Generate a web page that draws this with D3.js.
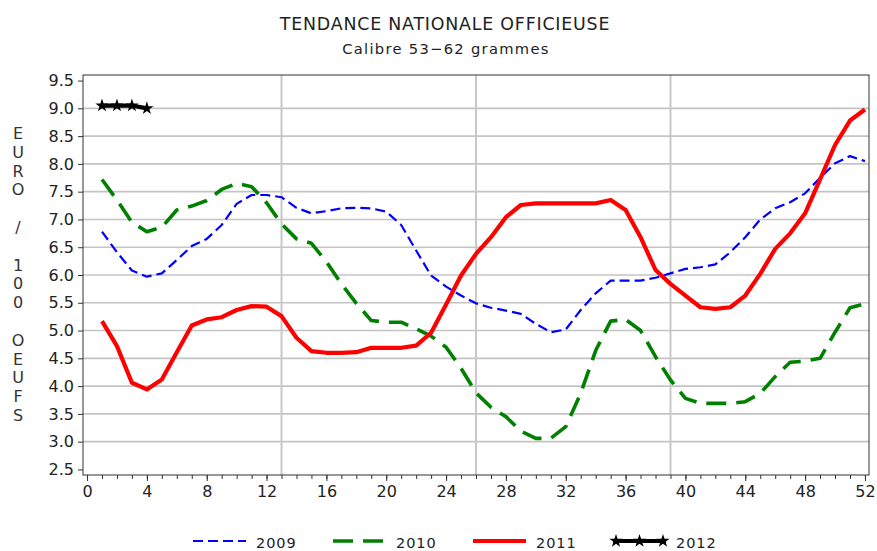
<!DOCTYPE html>
<html>
<head>
<meta charset="utf-8">
<script src="https://cdn.jsdelivr.net/npm/d3@7"></script>
<style>
  html, body { margin: 0; padding: 0; background: #fff; }
  svg { display: block; font-family: "DejaVu Sans", sans-serif; }
</style>
</head>
<body>
<svg id="chart" width="877" height="551"></svg>
<script>
// Weekly egg prices, euro per 100 eggs, size 53-62 g
const weeks = d3.range(1, 53);
const prices2009 = [6.78, 6.41, 6.08, 5.97, 6.03, 6.27, 6.52, 6.65, 6.90, 7.28,
  7.44, 7.44, 7.40, 7.21, 7.11, 7.15, 7.20, 7.21, 7.20, 7.14,
  6.90, 6.44, 5.99, 5.79, 5.63, 5.49, 5.41, 5.36, 5.30, 5.12,
  4.97, 5.02, 5.37, 5.67, 5.90, 5.90, 5.90, 5.95, 6.03, 6.11,
  6.14, 6.19, 6.41, 6.68, 7.00, 7.20, 7.31, 7.47, 7.75, 8.01,
  8.14, 8.05];
const prices2010 = [7.72, 7.35, 6.95, 6.78, 6.86, 7.17, 7.24, 7.34, 7.54, 7.65,
  7.59, 7.30, 6.92, 6.65, 6.57, 6.24, 5.84, 5.49, 5.18, 5.15,
  5.15, 5.03, 4.90, 4.70, 4.32, 3.88, 3.62, 3.45, 3.19, 3.06,
  3.06, 3.27, 3.87, 4.64, 5.17, 5.20, 5.00, 4.53, 4.11, 3.78,
  3.69, 3.69, 3.69, 3.72, 3.87, 4.17, 4.43, 4.45, 4.50, 4.97,
  5.41, 5.48];
const prices2011 = [5.17, 4.72, 4.06, 3.94, 4.12, 4.61, 5.09, 5.20, 5.24, 5.37,
  5.44, 5.43, 5.26, 4.87, 4.63, 4.60, 4.60, 4.61, 4.69, 4.69,
  4.69, 4.73, 4.96, 5.47, 5.99, 6.38, 6.68, 7.04, 7.26, 7.29,
  7.29, 7.29, 7.29, 7.29, 7.35, 7.17, 6.68, 6.09, 5.84, 5.63,
  5.42, 5.39, 5.42, 5.63, 6.02, 6.47, 6.75, 7.11, 7.72, 8.34,
  8.78, 8.98];
const prices2012 = [9.05, 9.05, 9.05, 9.00];

const yTicks = d3.range(2.5, 9.51, 0.5);
const xMajorTicks = d3.range(0, 53, 4);
const xMinorTicks = d3.range(0, 53, 1);
const quarterWeeks = [13, 26, 39];
const yLabelText = "EURO / 100 OEUFS";

const series = [
  { name: "2009", values: prices2009, color: "#0000ff", width: 2.2, dash: "10,5", star: false },
  { name: "2010", values: prices2010, color: "#008000", width: 3.6, dash: "20,10", star: false },
  { name: "2011", values: prices2011, color: "#ff0000", width: 4.2, dash: null, star: false },
  { name: "2012", values: prices2012, color: "#000000", width: 4.2, dash: null, star: true }
];

const svg = d3.select("#chart");
const plotLeft = 83, plotRight = 869, plotTop = 75, plotBottom = 475;

const x = d3.scaleLinear().domain([-0.27, 52.27]).range([plotLeft, plotRight]);
const y = d3.scaleLinear().domain([2.4, 9.6]).range([plotBottom, plotTop]);

// Titles
svg.append("text")
  .attr("x", 445).attr("y", 29.5)
  .attr("text-anchor", "middle")
  .attr("font-size", 17.4)
  .attr("letter-spacing", 0.8)
  .attr("fill", "#222")
  .text("TENDANCE NATIONALE OFFICIEUSE");
svg.append("text")
  .attr("x", 446).attr("y", 54)
  .attr("text-anchor", "middle")
  .attr("font-size", 14.7)
  .attr("letter-spacing", 1.3)
  .attr("fill", "#222")
  .text("Calibre 53\u221262 grammes");

// Gridlines
const grid = svg.append("g");
grid.selectAll("line.h")
  .data(yTicks.filter(v => v > 2.75 && v < 9.25))
  .join("line")
  .attr("class", "h")
  .attr("x1", plotLeft).attr("x2", plotRight)
  .attr("y1", d => y(d)).attr("y2", d => y(d))
  .attr("stroke", "#c4c4c4").attr("stroke-width", 1.6);
grid.selectAll("line.v")
  .data(quarterWeeks)
  .join("line")
  .attr("class", "v")
  .attr("x1", d => x(d)).attr("x2", d => x(d))
  .attr("y1", plotTop).attr("y2", plotBottom)
  .attr("stroke", "#c8c8c8").attr("stroke-width", 2);

// Axes
const yAxis = svg.append("g")
  .attr("transform", `translate(${plotLeft},0)`)
  .call(d3.axisLeft(y).tickValues(yTicks).tickFormat(d3.format(".1f")).tickSize(5).tickPadding(4));
yAxis.select(".domain").remove();
yAxis.selectAll("text").attr("font-size", 16).attr("fill", "#222").attr("font-family", "DejaVu Sans");
yAxis.selectAll("line").attr("stroke", "#333");

const xMinor = svg.append("g")
  .attr("transform", `translate(0,${plotBottom})`)
  .call(d3.axisBottom(x).tickValues(xMinorTicks).tickFormat("").tickSize(4));
xMinor.select(".domain").remove();
xMinor.selectAll("line").attr("stroke", "#333");

const xMajor = svg.append("g")
  .attr("transform", `translate(0,${plotBottom})`)
  .call(d3.axisBottom(x).tickValues(xMajorTicks).tickSize(6).tickPadding(5));
xMajor.select(".domain").remove();
xMajor.selectAll("line").attr("stroke", "#333");
xMajor.selectAll("text").attr("font-size", 16).attr("fill", "#222").attr("font-family", "DejaVu Sans");

// Vertical axis label, one character per row
const yl = svg.append("g").attr("font-size", 16).attr("fill", "#333").attr("text-anchor", "middle");
yl.selectAll("text")
  .data(Array.from(yLabelText))
  .join("text")
  .attr("x", 18)
  .attr("y", (d, i) => 139 + i * 18.8)
  .text(d => d);

// Data lines
const line = d3.line().x(d => x(d[0])).y(d => y(d[1]));
const star = d3.symbol().type(d3.symbolStar).size(55);
const plot = svg.append("g");
series.forEach(s => {
  const pts = s.values.map((v, i) => [weeks[i], v]);
  plot.append("path")
    .datum(pts)
    .attr("d", line)
    .attr("fill", "none")
    .attr("stroke", s.color)
    .attr("stroke-width", s.width)
    .attr("stroke-dasharray", s.dash)
    .attr("stroke-linejoin", "round");
  if (s.star) {
    plot.selectAll(null)
      .data(pts)
      .join("path")
      .attr("transform", d => `translate(${x(d[0])},${y(d[1])})`)
      .attr("d", star)
      .attr("fill", s.color);
  }
});

// Plot frame
svg.append("rect")
  .attr("x", plotLeft).attr("y", plotTop)
  .attr("width", plotRight - plotLeft).attr("height", plotBottom - plotTop)
  .attr("fill", "none").attr("stroke", "#333").attr("stroke-width", 1);

// Legend
const legend = svg.append("g");
series.forEach((s, i) => {
  const lx = 193 + i * 140, ly = 541;
  legend.append("line")
    .attr("x1", lx).attr("x2", lx + 53)
    .attr("y1", ly).attr("y2", ly)
    .attr("stroke", s.color)
    .attr("stroke-width", s.width)
    .attr("stroke-dasharray", s.dash);
  if (s.star) {
    [0, 0.5, 1].forEach(f => {
      legend.append("path")
        .attr("transform", `translate(${lx + 3 + f * 47},${ly})`)
        .attr("d", star)
        .attr("fill", s.color);
    });
  }
  legend.append("text")
    .attr("x", lx + 63).attr("y", 547.5)
    .attr("font-size", 14.5)
    .attr("letter-spacing", 0.9)
    .attr("fill", "#222")
    .text(s.name);
});
</script>
</body>
</html>
